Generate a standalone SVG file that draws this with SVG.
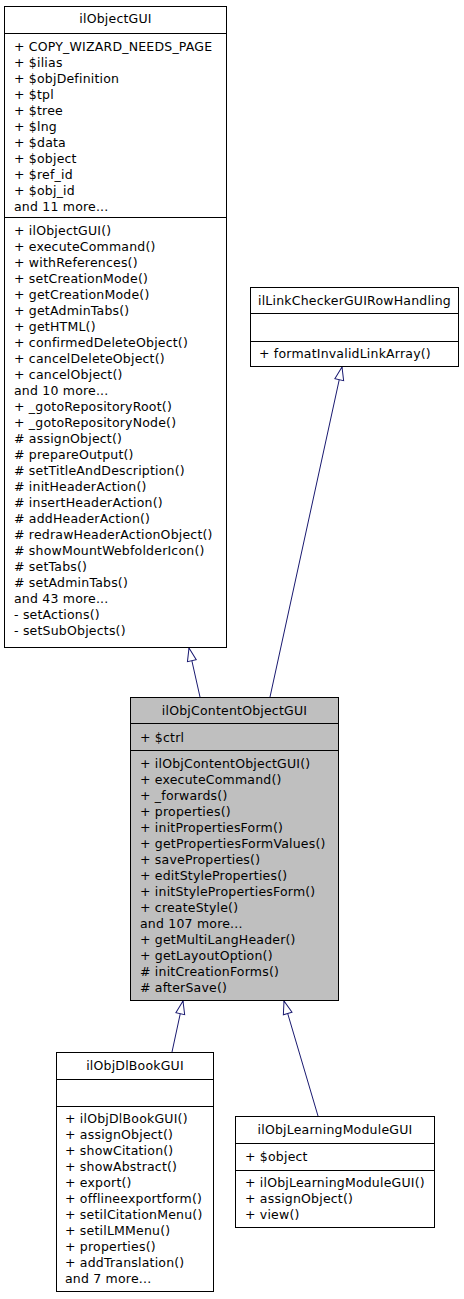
<svg xmlns="http://www.w3.org/2000/svg" width="464" height="1299" viewBox="0 0 464 1299">
<style>
  text { font-family: "DejaVu Sans", "Liberation Sans", sans-serif; font-size: 12.5px; letter-spacing: 0.2px; fill: #000; }
  .t { text-anchor: middle; }
  .box { fill: #ffffff; stroke: #000; stroke-width: 1; }
  .cur { fill: #bfbfbf; stroke: #000; stroke-width: 1; }
  .sep { stroke: #000; stroke-width: 1; }
  .edge { fill: none; stroke: #191970; stroke-width: 1; marker-end: url(#inh); }
</style>
<defs>
  <marker id="inh" markerUnits="userSpaceOnUse" markerWidth="16" markerHeight="12" viewBox="-1 -6 15 12" refX="13" refY="0" orient="auto">
    <path d="M0,-4.5 L13,0 L0,4.5 Z" fill="#ffffff" stroke="#191970" stroke-width="1"/>
  </marker>
</defs>
<rect width="464" height="1299" fill="#ffffff"/>

<g id="connectors">
  <path class="edge" d="M200,697 L189,648"/>
  <path class="edge" d="M270,697 L342,367"/>
  <path class="edge" d="M172,1052 L183,1001"/>
  <path class="edge" d="M318,1116 L284,1001"/>
</g>

<g id="ilObjectGUI">
  <rect class="box" x="4.5" y="6.5" width="222" height="641"/>
  <line class="sep" x1="4.5" y1="33.5" x2="226.5" y2="33.5"/>
  <line class="sep" x1="4.5" y1="217.5" x2="226.5" y2="217.5"/>
  <text class="t" x="115.5" y="23">ilObjectGUI</text>
  <text x="14" y="51">+ COPY_WIZARD_NEEDS_PAGE</text>
  <text x="14" y="67">+ $ilias</text>
  <text x="14" y="83">+ $objDefinition</text>
  <text x="14" y="99">+ $tpl</text>
  <text x="14" y="115">+ $tree</text>
  <text x="14" y="131">+ $lng</text>
  <text x="14" y="147">+ $data</text>
  <text x="14" y="163">+ $object</text>
  <text x="14" y="179">+ $ref_id</text>
  <text x="14" y="195">+ $obj_id</text>
  <text x="14" y="211">and 11 more...</text>
  <text x="14" y="235">+ ilObjectGUI()</text>
  <text x="14" y="251">+ executeCommand()</text>
  <text x="14" y="267">+ withReferences()</text>
  <text x="14" y="283">+ setCreationMode()</text>
  <text x="14" y="299">+ getCreationMode()</text>
  <text x="14" y="315">+ getAdminTabs()</text>
  <text x="14" y="331">+ getHTML()</text>
  <text x="14" y="347">+ confirmedDeleteObject()</text>
  <text x="14" y="363">+ cancelDeleteObject()</text>
  <text x="14" y="379">+ cancelObject()</text>
  <text x="14" y="395">and 10 more...</text>
  <text x="14" y="411">+ _gotoRepositoryRoot()</text>
  <text x="14" y="427">+ _gotoRepositoryNode()</text>
  <text x="14" y="443"># assignObject()</text>
  <text x="14" y="459"># prepareOutput()</text>
  <text x="14" y="475"># setTitleAndDescription()</text>
  <text x="14" y="491"># initHeaderAction()</text>
  <text x="14" y="507"># insertHeaderAction()</text>
  <text x="14" y="523"># addHeaderAction()</text>
  <text x="14" y="539"># redrawHeaderActionObject()</text>
  <text x="14" y="555"># showMountWebfolderIcon()</text>
  <text x="14" y="571"># setTabs()</text>
  <text x="14" y="587"># setAdminTabs()</text>
  <text x="14" y="603">and 43 more...</text>
  <text x="14" y="619">- setActions()</text>
  <text x="14" y="635">- setSubObjects()</text>
</g>

<g id="ilLinkCheckerGUIRowHandling">
  <rect class="box" x="250.5" y="287.5" width="208" height="79"/>
  <line class="sep" x1="250.5" y1="313.5" x2="458.5" y2="313.5"/>
  <line class="sep" x1="250.5" y1="341.5" x2="458.5" y2="341.5"/>
  <text class="t" x="354.5" y="305">ilLinkCheckerGUIRowHandling</text>
  <text x="259" y="358">+ formatInvalidLinkArray()</text>
</g>

<g id="ilObjContentObjectGUI">
  <rect class="cur" x="130.5" y="697.5" width="208" height="303"/>
  <line class="sep" x1="130.5" y1="723.5" x2="338.5" y2="723.5"/>
  <line class="sep" x1="130.5" y1="750.5" x2="338.5" y2="750.5"/>
  <text class="t" x="234.5" y="715">ilObjContentObjectGUI</text>
  <text x="140" y="742">+ $ctrl</text>
  <text x="140" y="768">+ ilObjContentObjectGUI()</text>
  <text x="140" y="784">+ executeCommand()</text>
  <text x="140" y="800">+ _forwards()</text>
  <text x="140" y="816">+ properties()</text>
  <text x="140" y="832">+ initPropertiesForm()</text>
  <text x="140" y="848">+ getPropertiesFormValues()</text>
  <text x="140" y="864">+ saveProperties()</text>
  <text x="140" y="880">+ editStyleProperties()</text>
  <text x="140" y="896">+ initStylePropertiesForm()</text>
  <text x="140" y="912">+ createStyle()</text>
  <text x="140" y="928">and 107 more...</text>
  <text x="140" y="944">+ getMultiLangHeader()</text>
  <text x="140" y="960">+ getLayoutOption()</text>
  <text x="140" y="976"># initCreationForms()</text>
  <text x="140" y="992"># afterSave()</text>
</g>

<g id="ilObjDlBookGUI">
  <rect class="box" x="56.5" y="1052.5" width="157" height="239"/>
  <line class="sep" x1="56.5" y1="1079.5" x2="213.5" y2="1079.5"/>
  <line class="sep" x1="56.5" y1="1106.5" x2="213.5" y2="1106.5"/>
  <text class="t" x="135" y="1070">ilObjDlBookGUI</text>
  <text x="65" y="1123">+ ilObjDlBookGUI()</text>
  <text x="65" y="1139">+ assignObject()</text>
  <text x="65" y="1155">+ showCitation()</text>
  <text x="65" y="1171">+ showAbstract()</text>
  <text x="65" y="1187">+ export()</text>
  <text x="65" y="1203">+ offlineexportform()</text>
  <text x="65" y="1219">+ setilCitationMenu()</text>
  <text x="65" y="1235">+ setilLMMenu()</text>
  <text x="65" y="1251">+ properties()</text>
  <text x="65" y="1267">+ addTranslation()</text>
  <text x="65" y="1283">and 7 more...</text>
</g>

<g id="ilObjLearningModuleGUI">
  <rect class="box" x="235.5" y="1116.5" width="199" height="111"/>
  <line class="sep" x1="235.5" y1="1143.5" x2="434.5" y2="1143.5"/>
  <line class="sep" x1="235.5" y1="1170.5" x2="434.5" y2="1170.5"/>
  <text class="t" x="335" y="1134">ilObjLearningModuleGUI</text>
  <text x="245" y="1161">+ $object</text>
  <text x="245" y="1187">+ ilObjLearningModuleGUI()</text>
  <text x="245" y="1203">+ assignObject()</text>
  <text x="245" y="1219">+ view()</text>
</g>
</svg>
